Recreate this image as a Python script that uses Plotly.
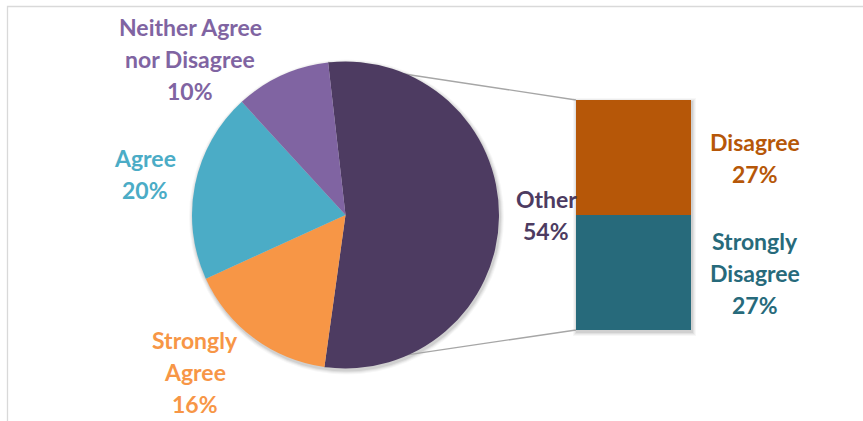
import math
import plotly.graph_objects as go

W, H = 863, 421

# Survey responses (percent)
pie_labels = ["Other", "Strongly Agree", "Agree", "Neither Agree nor Disagree"]
pie_values = [54, 16, 20, 10]
bar_labels = ["Disagree", "Strongly Disagree"]
bar_values = [27, 27]

# Wrapped label lines
label_lines = {
    "Other": ["Other"],
    "Strongly Agree": ["Strongly", "Agree"],
    "Agree": ["Agree"],
    "Neither Agree nor Disagree": ["Neither Agree", "nor Disagree"],
    "Disagree": ["Disagree"],
    "Strongly Disagree": ["Strongly", "Disagree"],
}

colors = {
    "Other": "#4D3B61",
    "Strongly Agree": "#F79646",
    "Agree": "#4BACC6",
    "Neither Agree nor Disagree": "#8064A2",
    "Disagree": "#B65708",
    "Strongly Disagree": "#276A7B",
}

# Label anchor positions in pixels (center x, first line center y)
label_pos = {
    "Other": (546, 199),
    "Strongly Agree": (195, 340),
    "Agree": (145, 158),
    "Neither Agree nor Disagree": (190, 27),
    "Disagree": (755, 142),
    "Strongly Disagree": (755, 241),
}
LINE_STEP = 32

# Geometry in pixels
cx, cy, r = 345.5, 215.0, 153.5
rotation = -6.5
bar_x0, bar_x1, bar_y0, bar_y1 = 576, 691, 100, 330


def px(x):
    return x / W


def py(y):
    return 1 - y / H


fig = go.Figure()

fig.add_trace(go.Pie(
    labels=pie_labels,
    values=pie_values,
    sort=False,
    direction="clockwise",
    rotation=rotation,
    marker=dict(colors=[colors[l] for l in pie_labels], line=dict(width=0)),
    textinfo="none",
    hovertemplate="%{label}: %{value}%<extra></extra>",
    domain=dict(x=[px(cx - r), px(cx + r)], y=[py(cy + r), py(cy - r)]),
    showlegend=False,
))

# Stacked bar breaking down "Other" (bottom segment first)
for lab, val in reversed(list(zip(bar_labels, bar_values))):
    fig.add_trace(go.Bar(
        x=[0], y=[val], width=[1],
        marker=dict(color=colors[lab], line=dict(width=0)),
        name=lab,
        hovertemplate=lab + ": %{y}%<extra></extra>",
        xaxis="x", yaxis="y",
        showlegend=False,
    ))

total_bar = sum(bar_values)
fig.update_layout(
    barmode="stack",
    xaxis=dict(domain=[px(bar_x0), px(bar_x1)], range=[-0.5, 0.5], visible=False,
               fixedrange=True),
    yaxis=dict(domain=[py(bar_y1), py(bar_y0)], range=[0, total_bar], visible=False,
               fixedrange=True),
)

shapes = []

# Soft shadows behind pie and bar
for k, op in [(4, 0.03), (3, 0.04), (2, 0.05), (1, 0.07)]:
    shapes.append(dict(type="circle", xref="paper", yref="paper", layer="below",
                       x0=px(cx - r - k + 1), x1=px(cx + r + k + 1),
                       y0=py(cy + r + k + 2), y1=py(cy - r - k + 2),
                       fillcolor=f"rgba(0,0,0,{op})", line=dict(width=0)))
    shapes.append(dict(type="rect", xref="paper", yref="paper", layer="below",
                       x0=px(bar_x0 - k + 1), x1=px(bar_x1 + k + 1),
                       y0=py(bar_y1 + k + 2), y1=py(bar_y0 - k + 2),
                       fillcolor=f"rgba(0,0,0,{op})", line=dict(width=0)))

# Series lines from the edges of the "Other" slice to the bar corners
other_share = pie_values[0] / sum(pie_values)
a0 = math.radians(rotation)
a1 = math.radians(rotation + 360 * other_share)
p0 = (cx + r * math.sin(a0), cy - r * math.cos(a0))
p1 = (cx + r * math.sin(a1), cy - r * math.cos(a1))
for (sx, sy), (ex, ey) in [(p0, (bar_x0, bar_y0)), (p1, (bar_x0, bar_y1))]:
    shapes.append(dict(type="line", xref="paper", yref="paper", layer="below",
                       x0=px(sx), y0=py(sy), x1=px(ex), y1=py(ey),
                       line=dict(color="#A6A6A6", width=1.3)))

# Chart area border (left and top edges)
shapes.append(dict(type="path", xref="paper", yref="paper", layer="above",
                   path=f"M {px(7.5)} {py(421)} L {px(7.5)} {py(6.5)} L {px(863)} {py(6.5)}",
                   line=dict(color="#D9D9D9", width=1.3)))

annotations = []
all_items = list(zip(pie_labels, pie_values)) + list(zip(bar_labels, bar_values))
for lab, val in all_items:
    lines = label_lines[lab] + [f"{val}%"]
    x0, y0 = label_pos[lab]
    for i, t in enumerate(lines):
        annotations.append(dict(
            x=px(x0), y=py(y0 + i * LINE_STEP), xref="paper", yref="paper",
            text=t, showarrow=False, xanchor="center", yanchor="middle",
            font=dict(family="Lato", size=23, color=colors[lab], weight="bold"),
        ))

fig.update_layout(
    width=W, height=H,
    margin=dict(l=0, r=0, t=0, b=0),
    paper_bgcolor="white",
    plot_bgcolor="rgba(0,0,0,0)",
    shapes=shapes,
    annotations=annotations,
    showlegend=False,
)

fig.write_html("out.html", config=dict(displayModeBar=False))
